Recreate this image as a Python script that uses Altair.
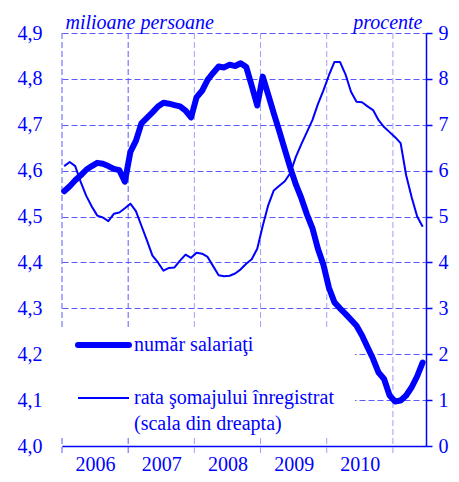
import json
import altair as alt
import pandas as pd

# ---------------- data (monthly, Jan 2006 - Jun 2011) ----------------
MONTHS = list(range(66))
EMPLOYEES = [
    4.555, 4.566, 4.579, 4.590, 4.602, 4.610, 4.617, 4.615, 4.610, 4.604, 4.601, 4.576,
    4.641, 4.665, 4.703, 4.715, 4.727, 4.740, 4.748, 4.746, 4.743, 4.740, 4.731, 4.716,
    4.760, 4.774, 4.798, 4.813, 4.827, 4.825, 4.831, 4.828, 4.834, 4.826, 4.785, 4.742,
    4.805, 4.765, 4.725, 4.686, 4.646, 4.606, 4.570, 4.540, 4.505, 4.475, 4.430, 4.395,
    4.345, 4.313, 4.300, 4.288, 4.275, 4.262, 4.241, 4.215, 4.190, 4.160, 4.146, 4.110,
    4.097, 4.099, 4.110, 4.128, 4.152, 4.182,
]
UNEMPLOYMENT = [
    6.10, 6.19, 6.10, 5.75, 5.45, 5.22, 5.02, 4.98, 4.90, 5.06, 5.09, 5.18,
    5.28, 5.12, 4.80, 4.48, 4.15, 4.00, 3.82, 3.88, 3.89, 4.04, 4.17, 4.10,
    4.21, 4.19, 4.12, 3.92, 3.72, 3.70, 3.71, 3.76, 3.85, 3.97, 4.07, 4.30,
    4.80, 5.25, 5.57, 5.67, 5.77, 5.95, 6.30, 6.58, 6.84, 7.10, 7.45, 7.75,
    8.08, 8.37, 8.37, 8.10, 7.72, 7.50, 7.49, 7.40, 7.32, 7.10, 6.95, 6.84,
    6.73, 6.60, 5.90, 5.42, 5.00, 4.78,
]
YEARS = ["2006", "2007", "2008", "2009", "2010"]
YEAR_BOUNDS = [0, 12, 24, 36, 48, 60]
LEFT_TICKS = [4.0, 4.1, 4.2, 4.3, 4.4, 4.5, 4.6, 4.7, 4.8, 4.9]
RIGHT_TICKS = [0, 1, 2, 3, 4, 5, 6, 7, 8, 9]
LEFT_TITLE = "milioane persoane"
RIGHT_TITLE = "procente"
LEGEND = ["număr salariaţi", "rata şomajului înregistrat", "(scala din dreapta)"]

BLUE = "#0000ff"
FONT = "Liberation Serif"

df = pd.DataFrame({"t": [m + 0.4 for m in MONTHS], "emp": EMPLOYEES, "rate": UNEMPLOYMENT})
vdf = pd.DataFrame({"b": YEAR_BOUNDS})
one = pd.DataFrame({"a": [0]})

xscale = alt.Scale(domain=[0, 66], nice=False, zero=False)
xaxis = alt.Axis(
    values=[6, 18, 30, 42, 54],
    labelExpr=f"{json.dumps(YEARS)}[floor(datum.value / 12)]",
    ticks=False, tickSize=0, grid=False,
    domain=True, domainColor=BLUE, domainWidth=1.5,
    labelColor=BLUE, labelFont=FONT, labelFontSize=20, labelPadding=8,
    title=None,
)
lscale = alt.Scale(domain=[4.0, 4.9], nice=False, zero=False)
laxis = alt.Axis(
    values=LEFT_TICKS,
    labelExpr="replace(format(datum.value, '.1f'), '.', ',')",
    ticks=False, tickSize=0, domain=False,
    grid=True, gridColor="#5a5aff", gridDash=[6, 3], gridWidth=1,
    labelColor=BLUE, labelFont=FONT, labelFontSize=20, labelPadding=20,
    title=LEFT_TITLE, titleAngle=0, titleX=3, titleY=-5, titleAlign="left",
    titleBaseline="alphabetic", titleFont=FONT, titleFontSize=20,
    titleFontStyle="italic", titleFontWeight="normal", titleColor=BLUE,
)
rscale = alt.Scale(domain=[0, 9], nice=False, zero=True)
raxis = alt.Axis(
    orient="right", values=RIGHT_TICKS, format="d",
    ticks=True, tickSize=6, tickColor=BLUE, tickWidth=1.5,
    domain=True, domainColor=BLUE, domainWidth=1.5, grid=False,
    labelColor=BLUE, labelFont=FONT, labelFontSize=20, labelPadding=6,
    title=RIGHT_TITLE, titleAngle=0, titleX=-4, titleY=-5, titleAlign="right",
    titleBaseline="alphabetic", titleFont=FONT, titleFontSize=20,
    titleFontStyle="italic", titleFontWeight="normal", titleColor=BLUE,
)

vrules = alt.Chart(vdf).mark_rule(strokeDash=[6, 3], strokeWidth=1).encode(
    x=alt.X("b:Q", scale=xscale, axis=xaxis),
    y=alt.value(0), y2=alt.value(420),
    color=alt.condition("datum.b < 20", alt.value("#5a5aff"), alt.value("#a0a0ff")),
)

legend_box = alt.Chart(one).mark_rect(color="white").encode(
    x=alt.value(-1), x2=alt.value(293), y=alt.value(297), y2=alt.value(404)
)

thick = alt.Chart(df).mark_line(
    color=BLUE, strokeWidth=6, strokeJoin="round", strokeCap="round"
).encode(
    x=alt.X("t:Q", scale=xscale, axis=xaxis),
    y=alt.Y("emp:Q", scale=lscale, axis=laxis),
)

leg_thick = alt.Chart(one).mark_rule(color=BLUE, strokeWidth=6, strokeCap="round").encode(
    x=alt.value(16), x2=alt.value(67), y=alt.value(312)
)
leg_thin = alt.Chart(one).mark_rule(color=BLUE, strokeWidth=2.2).encode(
    x=alt.value(16), x2=alt.value(67), y=alt.value(365)
)
leg_texts = [
    alt.Chart(one).mark_text(
        align="left", baseline="middle", font=FONT, fontSize=20, color=BLUE
    ).encode(x=alt.value(72), y=alt.value(yy), text=alt.value(lbl))
    for lbl, yy in zip(LEGEND, [312, 365, 391])
]

left = alt.layer(vrules, legend_box, thick, leg_thick, leg_thin, *leg_texts)

thin = alt.Chart(df).mark_line(color=BLUE, strokeWidth=2, strokeJoin="round").encode(
    x=alt.X("t:Q", scale=xscale, axis=xaxis),
    y=alt.Y("rate:Q", scale=rscale, axis=raxis),
)

chart = (
    alt.layer(left, thin)
    .resolve_scale(y="independent")
    .properties(
        width=364, height=413,
        autosize=alt.AutoSizeParams(type="none"),
        padding={"left": 54, "top": 25, "right": 25, "bottom": 27},
    )
    .configure_view(strokeWidth=0)
)

chart.save("out.html", embed_options={"renderer": "svg", "actions": False})
